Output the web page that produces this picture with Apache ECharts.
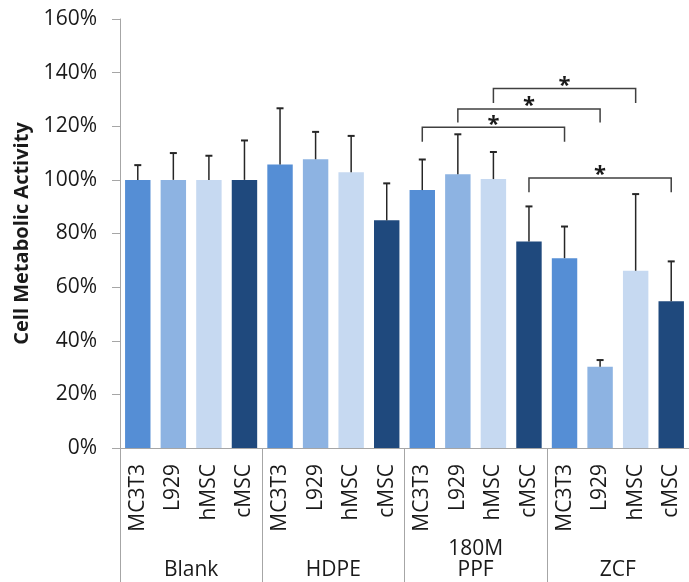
<!DOCTYPE html>
<html>
<head>
<meta charset="utf-8">
<script src="https://cdn.jsdelivr.net/npm/echarts@6/dist/echarts.min.js"></script>
<style>
html,body{margin:0;padding:0;background:#fff;}
#chart{width:689px;height:582px;}
</style>
</head>
<body>
<div id="chart"></div>
<script>
// ---- data ----
var cellLines = ['MC3T3', 'L929', 'hMSC', 'cMSC'];
var groups = ['Blank', 'HDPE', '180M\nPPF', 'ZCF'];
// mean metabolic activity (%) per group: Blank, HDPE, 180M PPF, ZCF
var mc3t3 = [100, 105.7, 96.2, 70.8];
var l929  = [100, 107.7, 102.1, 30.3];
var hmsc  = [100, 102.8, 100.3, 66.1];
var cmsc  = [100, 84.9, 77.0, 54.7];
// error (SD, %) per group
var mc3t3Err = [5.5, 21.0, 11.4, 11.8];
var l929Err  = [10.0, 10.2, 14.9, 2.5];
var hmscErr  = [9.0, 13.6, 10.1, 28.6];
var cmscErr  = [14.7, 13.8, 13.1, 14.9];
// significance brackets: [fromBar, toBar, bracket level %, leg end %]
var sigPairs = [
  [8, 12, 119.6, 114.2],
  [9, 13, 126.4, 121.4],
  [10, 14, 134.1, 128.7],
  [11, 15, 100.7, 95.4]
];
var yTicks = [0, 20, 40, 60, 80, 100, 120, 140, 160];

// ---- build ----
var colors = ['#558ED5', '#8DB3E2', '#C6D9F1', '#1F497D'];
var seriesVals = [mc3t3, l929, hmsc, cmsc];
var seriesErrs = [mc3t3Err, l929Err, hmscErr, cmscErr];
var cats = [], barData = [], errData = [];
for (var g = 0; g < groups.length; g++) {
  for (var c = 0; c < cellLines.length; c++) {
    var idx = cats.length;
    cats.push(cellLines[c]);
    var v = seriesVals[c][g];
    barData.push({ value: v, itemStyle: { color: colors[c] } });
    errData.push([idx, v, v + seriesErrs[c][g]]);
  }
}
var FONT = '"Open Sans"';
var chart = echarts.init(document.getElementById('chart'), null, { renderer: 'canvas' });
chart.setOption({
  animation: false,
  backgroundColor: '#fff',
  textStyle: { fontFamily: FONT },
  grid: { left: 120, top: 19, right: -3, bottom: 134, containLabel: false },
  xAxis: [
    {
      type: 'category', data: cats, position: 'bottom',
      axisLine: { show: true, lineStyle: { color: '#a6a6a6', width: 1 } },
      axisTick: { show: false },
      axisLabel: { interval: 0, rotate: 90, margin: 16, fontSize: 21, color: '#1a1a1a', fontFamily: FONT }
    },
    {
      type: 'category', data: groups, position: 'bottom', gridIndex: 0,
      axisLine: { show: false },
      axisTick: { show: true, interval: 0, length: 134, lineStyle: { color: '#a6a6a6', width: 1 } },
      axisLabel: { interval: 0, margin: 133, verticalAlign: 'bottom', fontSize: 21, lineHeight: 21.5, color: '#1a1a1a', fontFamily: FONT }
    }
  ],
  yAxis: {
    type: 'value', min: 0, max: 160, interval: 20,
    name: 'Cell Metabolic Activity', nameLocation: 'middle', nameGap: 86,
    nameTextStyle: { fontSize: 20, fontWeight: 'bold', color: '#1a1a1a', fontFamily: FONT },
    axisLine: { show: true, lineStyle: { color: '#a6a6a6', width: 1 } },
    axisTick: { show: true, inside: false, length: 8, lineStyle: { color: '#a6a6a6' } },
    splitLine: { show: false },
    axisLabel: { margin: 23, fontSize: 21, color: '#1a1a1a', fontFamily: FONT,
      formatter: function (v) { return yTicks.indexOf(v) >= 0 ? v + '%' : ''; } }
  },
  series: [
    {
      type: 'bar', data: barData, barCategoryGap: '28.5%', xAxisIndex: 0, yAxisIndex: 0
    },
    {
      type: 'custom', xAxisIndex: 0, yAxisIndex: 0, data: errData, z: 5,
      renderItem: function (params, api) {
        var x = api.value(0);
        var p0 = api.coord([x, api.value(1)]);
        var p1 = api.coord([x, api.value(2)]);
        var st = { stroke: '#262626', lineWidth: 1.5 };
        return { type: 'group', children: [
          { type: 'line', shape: { x1: p0[0], y1: p0[1], x2: p1[0], y2: p1[1] }, style: st },
          { type: 'line', shape: { x1: p1[0] - 3.5, y1: p1[1], x2: p1[0] + 3.5, y2: p1[1] }, style: { stroke: '#262626', lineWidth: 2 } }
        ] };
      }
    },
    {
      type: 'custom', xAxisIndex: 0, yAxisIndex: 0, data: sigPairs, z: 6,
      renderItem: function (params, api) {
        var a = api.coord([api.value(0), api.value(2)]);
        var b = api.coord([api.value(1), api.value(2)]);
        var leg = api.coord([api.value(0), api.value(3)]);
        return { type: 'group', children: [
          { type: 'polyline', shape: { points: [[a[0], leg[1]], [a[0], a[1]], [b[0], b[1]], [b[0], leg[1]]] },
            style: { stroke: '#404040', lineWidth: 1.5, fill: null } },
          { type: 'text', style: { text: '*', x: (a[0] + b[0]) / 2, y: a[1] + 8, align: 'center', verticalAlign: 'bottom',
            fontSize: 22, fontWeight: 'bold', fill: '#1a1a1a', fontFamily: FONT } }
        ] };
      }
    }
  ]
});
</script>
</body>
</html>
